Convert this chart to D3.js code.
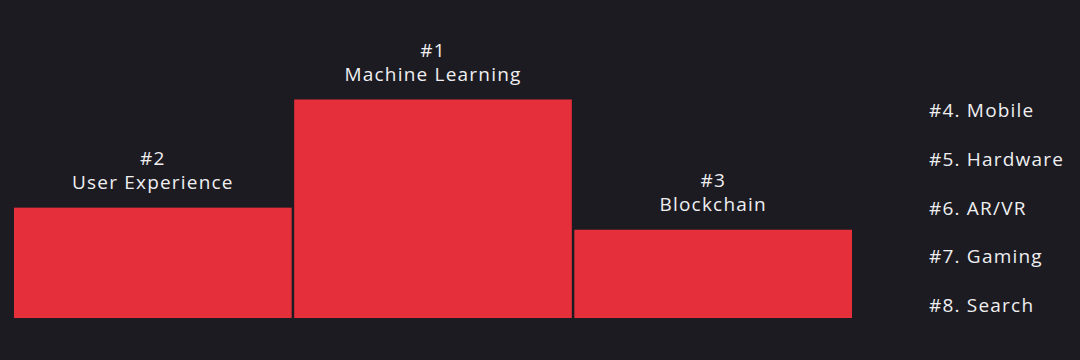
<!DOCTYPE html>
<html>
<head>
<meta charset="utf-8">
<script src="https://cdn.jsdelivr.net/npm/d3@7"></script>
<style>
  body { margin: 0; background: #1c1b22; }
  text { font-family: "Open Sans", sans-serif; fill: #efeff1; letter-spacing: 1.2px; }
</style>
</head>
<body>
<div id="chart"></div>
<script>
var svgWidth = 1080;
var svgHeight = 360;

// podium order left to right
var ranks = ["#2", "#1", "#3"];
var topics = ["User Experience", "Machine Learning", "Blockchain"];
var scores = [50.5, 100, 40.4];

// the rest of the list
var otherRanks = ["#4", "#5", "#6", "#7", "#8"];
var otherTopics = ["Mobile", "Hardware", "AR/VR", "Gaming", "Search"];

var svg = d3.select("#chart")
  .append("svg")
  .attr("width", svgWidth)
  .attr("height", svgHeight);

svg.append("rect")
  .attr("width", svgWidth)
  .attr("height", svgHeight)
  .attr("fill", "#1c1b22");

var xScale = d3.scaleBand()
  .domain(topics)
  .range([14, 852])
  .paddingInner(0.009);

var yScale = d3.scaleLinear()
  .domain([0, 100])
  .range([318, 99.5]);

var data = topics.map((t, i) => ({topic: t, rank: ranks[i], score: scores[i]}));

// bars
svg.selectAll(".bar")
  .data(data)
  .enter()
  .append("rect")
  .attr("class", "bar")
  .attr("x", d => xScale(d.topic))
  .attr("y", d => yScale(d.score))
  .attr("width", xScale.bandwidth())
  .attr("height", d => yScale(0) - yScale(d.score))
  .attr("fill", "#e52f3a");

// labels above bars
var labels = svg.selectAll(".lbl")
  .data(data)
  .enter()
  .append("g")
  .attr("class", "lbl")
  .attr("transform", d => `translate(${xScale(d.topic) + xScale.bandwidth() / 2}, ${yScale(d.score)})`);

labels.append("text")
  .attr("text-anchor", "middle")
  .attr("y", -43)
  .attr("font-size", 19)
  .text(d => d.rank);

labels.append("text")
  .attr("text-anchor", "middle")
  .attr("y", -19)
  .attr("font-size", 19)
  .text(d => d.topic);

// right-hand list
var listScale = d3.scalePoint()
  .domain(otherTopics)
  .range([117, 312]);

svg.selectAll(".other")
  .data(otherTopics)
  .enter()
  .append("text")
  .attr("class", "other")
  .attr("x", 929)
  .attr("y", d => listScale(d))
  .attr("font-size", 19)
  .text((d, i) => `${otherRanks[i]}. ${d}`);
</script>
</body>
</html>
